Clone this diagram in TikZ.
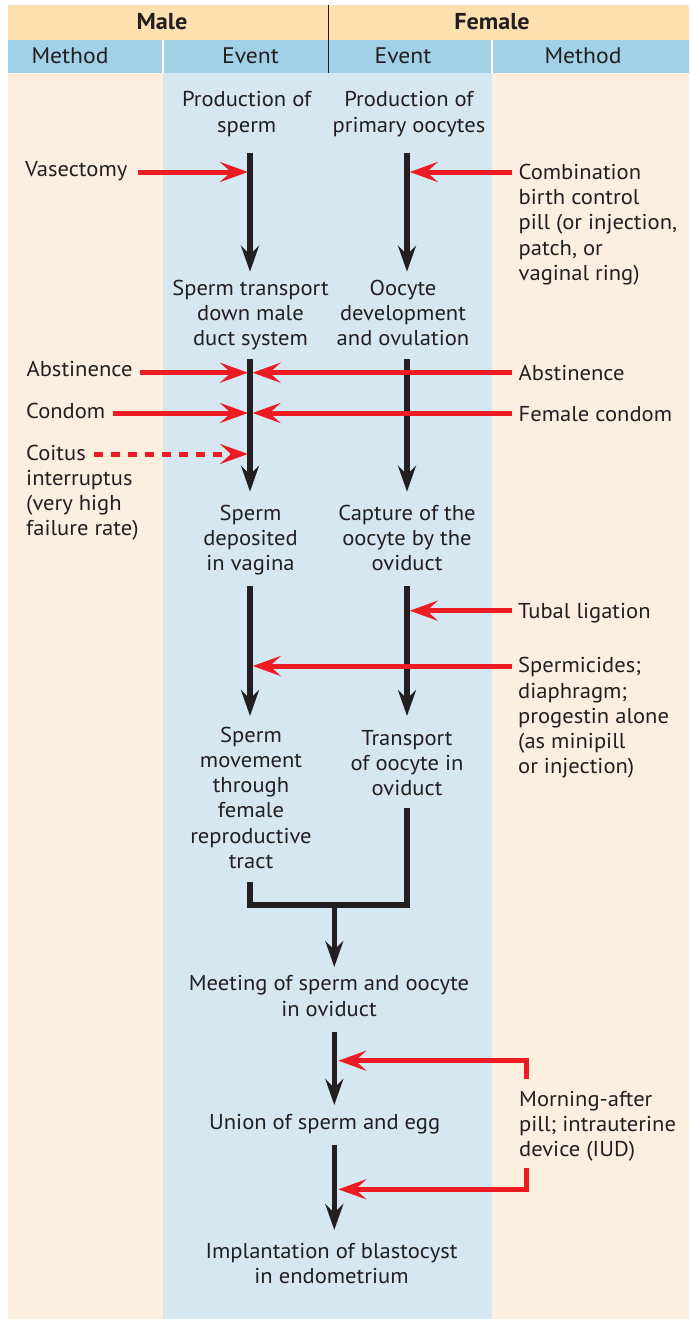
\documentclass[tikz,border=0pt]{standalone}
\usepackage{fontspec}
\setmainfont[FakeStretch=1.05]{PT Sans}
\usetikzlibrary{arrows.meta}
\definecolor{hdrOrange}{HTML}{FDE1B0}
\definecolor{hdrBlue}{HTML}{A0D1E7}
\definecolor{bodyOrange}{HTML}{FDEFE0}
\definecolor{bodyBlue}{HTML}{D5E7F1}
\definecolor{arrRed}{HTML}{ED1C24}
\definecolor{ink}{HTML}{231F20}
\newcommand{\bodyfont}{\fontsize{21.5}{25.2}\selectfont}
\newcommand{\topstrut}{\rule{0pt}{18pt}}
\tikzset{
  evt/.style={anchor=north, align=center, inner sep=0pt, text=ink, font=\bodyfont},
  mth/.style={anchor=north west, align=left, inner sep=0pt, text=ink, font=\bodyfont},
  hdr/.style={anchor=base, inner sep=0pt, text=ink, font=\fontsize{22.5}{26}\selectfont},
  hdrbold/.style={hdr, font=\fontsize{23}{26}\selectfont\bfseries},
  flow/.style={draw=ink, line width=5.5pt, -{Stealth[length=26pt, width=18pt, inset=9pt]}},
  plainflow/.style={draw=ink, line width=5.5pt, line join=miter},
  block/.style={draw=arrRed, line width=5pt, line join=miter, -{Stealth[length=28pt, width=20pt, inset=11pt]}},
  weakblock/.style={block, dash pattern=on 9pt off 8pt}
}
\begin{document}
\begin{tikzpicture}[x=1pt, y=-1pt]
\useasboundingbox (0,0) rectangle (689,1319);
% backgrounds
\fill[hdrOrange] (8,5) rectangle (689,40);
\fill[hdrBlue] (8,40) rectangle (689,73.5);
\fill[bodyOrange] (8,73.5) rectangle (163.4,1319);
\fill[bodyBlue] (163.4,73.5) rectangle (492,1319);
\fill[bodyOrange] (492,73.5) rectangle (689,1319);
\draw[ink, line width=1.3pt] (328.5,5) -- (328.5,73.5);
\draw[white, line width=2pt] (163.4,40) -- (163.4,73.5);
\draw[white, line width=2pt] (492,40) -- (492,73.5);
% header text
\node[hdrbold] (male) at (162,29.3) {Male};
\node[hdrbold] (female) at (492,29.3) {Female};
\node[hdr] (mthL) at (70,64) {Method};
\node[hdr] (evtL) at (250.5,64) {Event};
\node[hdr] (evtR) at (403,64) {Event};
\node[hdr] (mthR) at (583,64) {Method};
% event nodes (north = first baseline - 18)
\node[evt] (prodS) at (246.7,88.7) {\topstrut Production of\\sperm};
\node[evt] (prodO) at (409,88.7) {\topstrut Production of\\primary oocytes};
\node[evt] (transS) at (250.5,277) {\topstrut Sperm transport\\down male\\duct system};
\node[evt] (devO) at (403,277) {\topstrut Oocyte\\development\\and ovulation};
\node[evt] (depS) at (250.5,502) {\topstrut Sperm\\deposited\\in vagina};
\node[evt] (capO) at (407,502) {\topstrut Capture of the\\oocyte by the\\oviduct};
\node[evt] (moveS) at (251,724) {\topstrut Sperm\\movement\\through\\female\\reproductive\\tract};
\node[evt] (transO) at (407,727) {\topstrut Transport\\of oocyte in\\oviduct};
\node[evt] (meet) at (329,972.7) {\topstrut Meeting of sperm and oocyte\\in oviduct};
\node[evt] (union) at (324.7,1111.3) {\topstrut Union of sperm and egg};
\node[evt] (impl) at (331.5,1240) {\topstrut Implantation of blastocyst\\in endometrium};
% method nodes
\node[mth] (vas) at (25,158.5) {\topstrut Vasectomy};
\node[mth] (comb) at (518.5,161.3) {\topstrut Combination\\birth control\\pill (or injection,\\patch, or\\vaginal ring)};
\node[mth] (absL) at (26.4,358) {\topstrut Abstinence};
\node[mth] (absR) at (518.5,362.7) {\topstrut Abstinence};
\node[mth] (condL) at (26,400.3) {\topstrut Condom};
\node[mth] (condR) at (518.5,403.7) {\topstrut Female condom};
\node[mth] (coit) at (26,442) {\topstrut Coitus\\interruptus\\(very high\\failure rate)};
\node[mth] (tubal) at (518,600) {\topstrut Tubal ligation};
\node[mth] (sperm) at (518,654.7) {\topstrut Spermicides;\\diaphragm;\\progestin alone\\(as minipill\\or injection)};
\node[mth] (morning) at (519,1088) {\topstrut Morning-after\\pill; intrauterine\\device (IUD)};
% coordinates of flow lines
\coordinate (m1a) at (250,152.7); \coordinate (m1b) at (250,271.7);
\coordinate (f1a) at (407,152.7); \coordinate (f1b) at (407,271.7);
\coordinate (m2a) at (250,359);   \coordinate (m2b) at (250,491.7);
\coordinate (f2a) at (407,359);   \coordinate (f2b) at (407,491.7);
\coordinate (m3a) at (250,586);   \coordinate (m3b) at (250,716);
\coordinate (f3a) at (407,586);   \coordinate (f3b) at (407,716);
\coordinate (m4a) at (250,881.7); \coordinate (f4a) at (407,808.3);
\coordinate (mj) at (334.3,905);
\coordinate (c1b) at (334.3,967);
\coordinate (c2a) at (334.3,1031.7); \coordinate (c2b) at (334.3,1105);
\coordinate (c3a) at (334.3,1145);   \coordinate (c3b) at (334.3,1230);
% black flow arrows
\draw[flow] (m1a) -- (m1b);
\draw[flow] (f1a) -- (f1b);
\draw[flow] (m2a) -- (m2b);
\draw[flow] (f2a) -- (f2b);
\draw[flow] (m3a) -- (m3b);
\draw[flow] (f3a) -- (f3b);
\draw[plainflow] (m4a) |- (mj) -| (f4a);
\draw[flow] (mj) -- (c1b);
\draw[flow] (c2a) -- (c2b);
\draw[flow] (c3a) -- (c3b);
% red block arrows
\draw[block] (138.4,172) coordinate (vasS) -- (248,172) coordinate (vasT);
\draw[block] (511.9,172) coordinate (combS) -- (409.7,172) coordinate (combT);
\draw[block] (139.7,372.7) coordinate (absLS) -- (248,372.7) coordinate (absLT);
\draw[block] (511.9,372.7) coordinate (absRS) -- (252.5,372.7) coordinate (absRT);
\draw[block] (113,413) coordinate (condLS) -- (248,413) coordinate (condLT);
\draw[block] (511.9,413) coordinate (condRS) -- (252.5,413) coordinate (condRT);
\draw[weakblock] (93.6,454) coordinate (coitS) -- (248,454) coordinate (coitT);
\draw[block] (511.7,610.7) coordinate (tubS) -- (409.7,610.7) coordinate (tubT);
\draw[block] (511.7,666) coordinate (spS) -- (252.7,666) coordinate (spT);
\draw[block] (526.7,1079.3) coordinate (mo1S) |- (338.3,1060.7) coordinate (mo1T);
\draw[block] (526.7,1168.3) coordinate (mo2S) |- (338.3,1189.3) coordinate (mo2T);
\end{tikzpicture}
\end{document}
